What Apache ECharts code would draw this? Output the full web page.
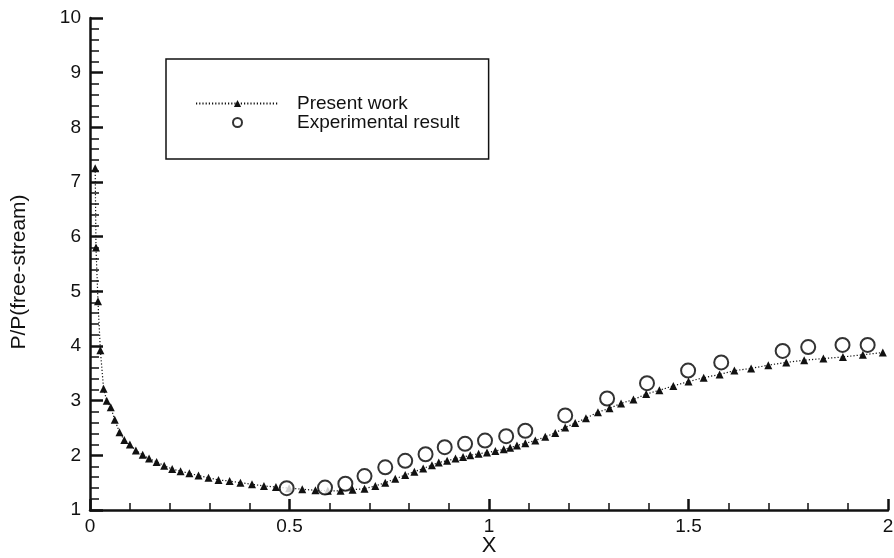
<!DOCTYPE html>
<html>
<head>
<meta charset="utf-8">
<script src="https://cdn.jsdelivr.net/npm/echarts@6/dist/echarts.min.js"></script>
<style>
html,body{margin:0;padding:0;background:#fff;}
#chart{width:894px;height:558px;}
</style>
</head>
<body>
<div id="chart"></div>
<script>
var presentX = [0.013, 0.015, 0.02, 0.026, 0.034, 0.042, 0.052, 0.062, 0.074, 0.086, 0.1, 0.115, 0.132, 0.148, 0.167, 0.186, 0.206, 0.227, 0.249, 0.272, 0.297, 0.322, 0.35, 0.377, 0.406, 0.436, 0.466, 0.499, 0.532, 0.565, 0.596, 0.628, 0.658, 0.688, 0.715, 0.74, 0.765, 0.79, 0.813, 0.835, 0.857, 0.874, 0.895, 0.916, 0.935, 0.953, 0.974, 0.995, 1.016, 1.037, 1.053, 1.07, 1.091, 1.116, 1.141, 1.166, 1.191, 1.216, 1.243, 1.273, 1.302, 1.331, 1.362, 1.394, 1.427, 1.462, 1.5, 1.538, 1.578, 1.615, 1.657, 1.7, 1.745, 1.79, 1.838, 1.887, 1.937, 1.987];
var presentY = [7.25, 5.80, 4.82, 3.92, 3.22, 3.0, 2.88, 2.65, 2.42, 2.28, 2.20, 2.09, 2.01, 1.94, 1.88, 1.81, 1.75, 1.71, 1.67, 1.63, 1.59, 1.55, 1.53, 1.50, 1.47, 1.44, 1.42, 1.40, 1.38, 1.36, 1.35, 1.35, 1.37, 1.39, 1.44, 1.50, 1.57, 1.64, 1.70, 1.76, 1.82, 1.87, 1.90, 1.94, 1.97, 2.00, 2.03, 2.05, 2.08, 2.11, 2.14, 2.18, 2.22, 2.27, 2.34, 2.41, 2.51, 2.59, 2.68, 2.79, 2.86, 2.95, 3.02, 3.12, 3.19, 3.27, 3.35, 3.42, 3.48, 3.55, 3.59, 3.65, 3.70, 3.74, 3.77, 3.80, 3.84, 3.88];
var expX = [0.493, 0.589, 0.64, 0.688, 0.74, 0.79, 0.841, 0.889, 0.94, 0.99, 1.043, 1.091, 1.191, 1.296, 1.396, 1.499, 1.582, 1.736, 1.80, 1.886, 1.949];
var expY = [1.40, 1.41, 1.48, 1.62, 1.78, 1.90, 2.02, 2.15, 2.21, 2.27, 2.35, 2.45, 2.73, 3.04, 3.32, 3.55, 3.70, 3.91, 3.98, 4.02, 4.02];
var seriesNames = ['Present work', 'Experimental result'];
var xAxisName = 'X';
var yAxisName = 'P/P(free-stream)';

function zip(a, b) { return a.map(function (v, i) { return [v, b[i]]; }); }

var font = 'Liberation Sans, Arial, Helvetica, sans-serif';
var chart = echarts.init(document.getElementById('chart'), null, {renderer: 'canvas'});
chart.setOption({
  animation: false,
  backgroundColor: '#fff',
  grid: {left: 90, right: 6, top: 18, bottom: 48, containLabel: false, outerBoundsMode: 'none'},
  legend: {
    orient: 'vertical',
    left: 166,
    top: 59,
    padding: [35, 29, 27, 29],
    borderColor: '#111',
    borderWidth: 1.5,
    itemWidth: 83,
    itemHeight: 9,
    itemGap: 0,
    textStyle: {fontFamily: font, fontSize: 19, color: '#111', padding: [0, 0, 0, 13], lineHeight: 19},
    data: seriesNames
  },
  xAxis: {
    type: 'value', min: 0, max: 2, interval: 0.5,
    name: xAxisName, nameLocation: 'middle', nameGap: 25, nameMoveOverlap: false,
    nameTextStyle: {fontFamily: font, fontSize: 22, color: '#111'},
    axisLine: {lineStyle: {color: '#111', width: 2.5}},
    axisTick: {inside: true, length: 11, lineStyle: {color: '#111', width: 2.5}},
    minorTick: {show: true, splitNumber: 5, length: 7, lineStyle: {color: '#111', width: 1.5}},
    splitLine: {show: false},
    axisLabel: {fontFamily: font, fontSize: 19, color: '#111', margin: 7}
  },
  yAxis: {
    type: 'value', min: 1, max: 10, interval: 1,
    name: yAxisName, nameLocation: 'middle', nameGap: 60, nameRotate: 90, nameMoveOverlap: false,
    nameTextStyle: {fontFamily: font, fontSize: 21, color: '#111', padding: [0, 16, 0, 0]},
    axisLine: {lineStyle: {color: '#111', width: 2.5}},
    axisTick: {inside: true, length: 13, lineStyle: {color: '#111', width: 2.5}},
    minorTick: {show: true, splitNumber: 5, length: 9, lineStyle: {color: '#111', width: 1.5}},
    splitLine: {show: false},
    axisLabel: {fontFamily: font, fontSize: 19, color: '#111', margin: 9}
  },
  series: [
    {
      name: seriesNames[0],
      type: 'line',
      data: zip(presentX, presentY),
      symbol: 'triangle',
      symbolSize: 8,
      showSymbol: true,
      itemStyle: {color: '#111'},
      lineStyle: {color: '#111', width: 1.2, type: [1.2, 2]},
      z: 2
    },
    {
      name: seriesNames[1],
      type: 'scatter',
      data: zip(expX, expY),
      symbol: 'emptyCircle',
      symbolSize: 14,
      itemStyle: {color: '#000', borderColor: '#000', borderWidth: 2.6},
      z: 3
    }
  ]
});
</script>
</body>
</html>
